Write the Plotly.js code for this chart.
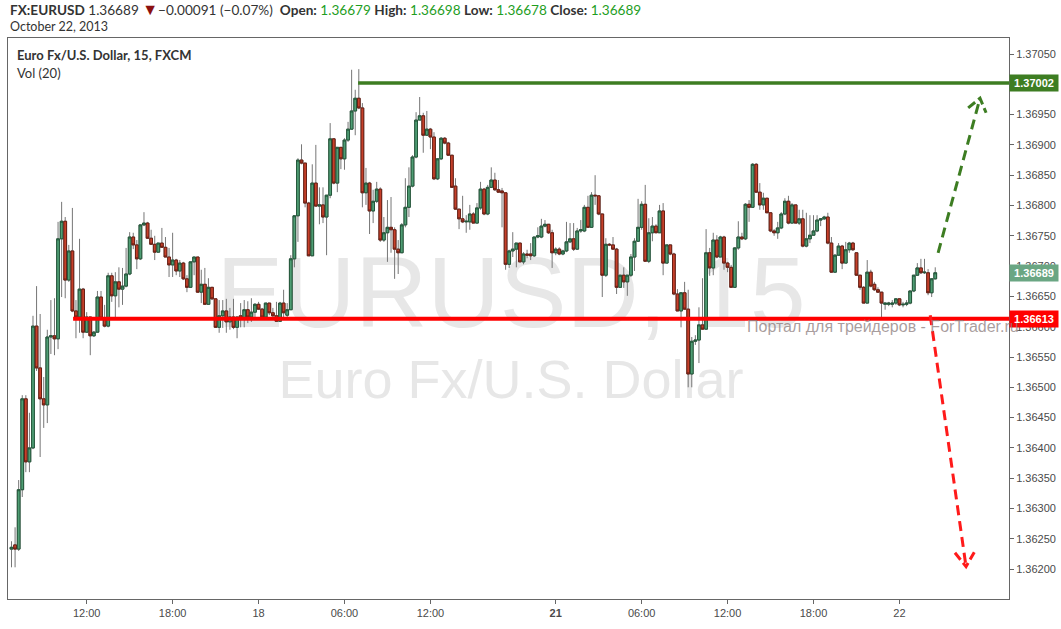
<!DOCTYPE html>
<html><head><meta charset="utf-8">
<script src="https://cdn.plot.ly/plotly-3.0.1.min.js"></script>
<style>html,body{margin:0;padding:0;background:#fff;}#chart{width:1061px;height:629px;}</style>
</head><body><div id="chart"></div>
<script>
// 15-minute EURUSD candles (index 0 = first visible bar)
const openP = [
1.36233,1.36240,1.36233,1.36331,1.36481,1.36377,1.36400,1.36601,1.36532,1.36481,
1.36471,1.36583,1.36585,1.36580,1.36745,1.36774,1.36677,1.36725,1.36626,1.36616,
1.36662,1.36591,1.36616,1.36585,1.36591,1.36649,1.36614,1.36601,1.36684,1.36651,
1.36674,1.36662,1.36667,1.36687,1.36748,1.36735,1.36712,1.36768,1.36771,1.36746,
1.36736,1.36723,1.36738,1.36731,1.36715,1.36702,1.36710,1.36692,1.36705,1.36679,
1.36665,1.36707,1.36715,1.36657,1.36670,1.36637,1.36665,1.36646,1.36599,1.36618,
1.36626,1.36608,1.36616,1.36599,1.36618,1.36614,1.36628,1.36616,1.36624,1.36637,
1.36629,1.36616,1.36639,1.36623,1.36618,1.36609,1.36639,1.36619,1.36628,1.36712,
1.36783,1.36875,1.36870,1.36804,1.36717,1.36837,1.36799,1.36801,1.36781,1.36817,
1.36910,1.36837,1.36896,1.36877,1.36908,1.36926,1.36956,1.36977,1.36961,1.36821,
1.36837,1.36791,1.36807,1.36827,1.36743,1.36755,1.36764,1.36760,1.36728,1.36722,
1.36768,1.36797,1.36832,1.36880,1.36941,1.36948,1.36916,1.36926,1.36913,1.36844,
1.36877,1.36911,1.36903,1.36883,1.36832,1.36794,1.36778,1.36773,1.36773,1.36786,
1.36771,1.36796,1.36827,1.36786,1.36830,1.36842,1.36826,1.36824,1.36821,1.36703,
1.36725,1.36728,1.36738,1.36707,1.36720,1.36720,1.36717,1.36748,1.36748,1.36766,
1.36769,1.36755,1.36722,1.36728,1.36720,1.36725,1.36740,1.36745,1.36728,1.36758,
1.36758,1.36797,1.36764,1.36817,1.36816,1.36786,1.36685,1.36736,1.36735,1.36728,
1.36665,1.36685,1.36674,1.36685,1.36715,1.36741,1.36764,1.36802,1.36708,1.36755,
1.36766,1.36755,1.36791,1.36705,1.36735,1.36720,1.36654,1.36626,1.36656,1.36629,
1.36522,1.36576,1.36578,1.36603,1.36596,1.36722,1.36697,1.36743,1.36715,1.36748,
1.36705,1.36698,1.36665,1.36730,1.36748,1.36745,1.36802,1.36797,1.36868,1.36822,
1.36801,1.36812,1.36788,1.36758,1.36755,1.36763,1.36786,1.36807,1.36771,1.36801,
1.36771,1.36778,1.36733,1.36745,1.36751,1.36758,1.36776,1.36778,1.36781,1.36738,
1.36690,1.36718,1.36733,1.36705,1.36727,1.36738,1.36722,1.36685,1.36665,1.36639,
1.36690,1.36670,1.36661,1.36657,1.36637,1.36637,1.36637,1.36639,1.36646,1.36636,
1.36637,1.36639,1.36659,1.36685,1.36697,1.36689,1.36689,1.36656,1.36679];
const highP = [
1.36246,1.36269,1.36347,1.36487,1.36487,1.36458,1.36618,1.36667,1.36621,1.36517,
1.36595,1.36644,1.36647,1.36773,1.36806,1.36781,1.36735,1.36796,1.36644,1.36745,
1.36664,1.36624,1.36616,1.36593,1.36659,1.36659,1.36636,1.36689,1.36689,1.36690,
1.36698,1.36697,1.36730,1.36756,1.36755,1.36743,1.36769,1.36789,1.36773,1.36760,
1.36750,1.36738,1.36763,1.36748,1.36730,1.36755,1.36712,1.36710,1.36707,1.36685,
1.36707,1.36715,1.36715,1.36694,1.36697,1.36680,1.36665,1.36646,1.36644,1.36644,
1.36646,1.36631,1.36646,1.36616,1.36639,1.36644,1.36642,1.36647,1.36639,1.36641,
1.36631,1.36639,1.36639,1.36631,1.36641,1.36641,1.36661,1.36639,1.36718,1.36784,
1.36878,1.36901,1.36870,1.36806,1.36868,1.36900,1.36830,1.36830,1.36817,1.36936,
1.36911,1.36896,1.36896,1.36911,1.36938,1.37024,1.36991,1.37025,1.36969,1.36862,
1.36839,1.36826,1.36839,1.36830,1.36781,1.36809,1.36814,1.36764,1.36743,1.36771,
1.36845,1.36863,1.36883,1.36954,1.36979,1.36953,1.36956,1.36928,1.36921,1.36878,
1.36913,1.36913,1.36905,1.36883,1.36845,1.36794,1.36816,1.36784,1.36801,1.36789,
1.36804,1.36839,1.36829,1.36834,1.36863,1.36854,1.36842,1.36829,1.36821,1.36727,
1.36756,1.36738,1.36738,1.36723,1.36727,1.36738,1.36748,1.36764,1.36778,1.36776,
1.36769,1.36760,1.36731,1.36731,1.36727,1.36773,1.36771,1.36771,1.36763,1.36776,
1.36801,1.36816,1.36822,1.36850,1.36817,1.36786,1.36746,1.36738,1.36748,1.36730,
1.36685,1.36698,1.36685,1.36720,1.36746,1.36811,1.36807,1.36834,1.36779,1.36781,
1.36769,1.36801,1.36804,1.36735,1.36735,1.36722,1.36662,1.36657,1.36674,1.36661,
1.36583,1.36586,1.36632,1.36680,1.36761,1.36730,1.36755,1.36751,1.36750,1.36750,
1.36707,1.36702,1.36731,1.36774,1.36755,1.36804,1.36809,1.36870,1.36870,1.36837,
1.36821,1.36812,1.36789,1.36761,1.36773,1.36789,1.36812,1.36816,1.36804,1.36801,
1.36793,1.36793,1.36788,1.36784,1.36784,1.36784,1.36779,1.36783,1.36788,1.36748,
1.36720,1.36738,1.36735,1.36740,1.36740,1.36740,1.36722,1.36685,1.36667,1.36710,
1.36694,1.36674,1.36665,1.36657,1.36639,1.36641,1.36644,1.36647,1.36647,1.36641,
1.36644,1.36659,1.36685,1.36705,1.36712,1.36712,1.36695,1.36680,1.36698];
const lowP = [
1.36203,1.36203,1.36230,1.36319,1.36360,1.36360,1.36398,1.36527,1.36385,1.36433,
1.36441,1.36555,1.36553,1.36563,1.36649,1.36647,1.36674,1.36624,1.36581,1.36590,
1.36581,1.36590,1.36553,1.36583,1.36591,1.36611,1.36599,1.36599,1.36641,1.36616,
1.36632,1.36636,1.36665,1.36685,1.36728,1.36695,1.36710,1.36766,1.36745,1.36735,
1.36710,1.36723,1.36731,1.36715,1.36682,1.36682,1.36685,1.36682,1.36677,1.36657,
1.36665,1.36685,1.36656,1.36639,1.36636,1.36636,1.36644,1.36598,1.36590,1.36598,
1.36590,1.36595,1.36596,1.36581,1.36599,1.36599,1.36606,1.36608,1.36616,1.36628,
1.36614,1.36614,1.36619,1.36616,1.36608,1.36608,1.36614,1.36614,1.36628,1.36698,
1.36740,1.36868,1.36797,1.36717,1.36717,1.36799,1.36769,1.36771,1.36718,1.36812,
1.36835,1.36822,1.36860,1.36859,1.36905,1.36925,1.36916,1.36959,1.36797,1.36801,
1.36753,1.36771,1.36804,1.36740,1.36740,1.36707,1.36722,1.36679,1.36687,1.36722,
1.36764,1.36781,1.36830,1.36878,1.36941,1.36887,1.36915,1.36893,1.36842,1.36842,
1.36875,1.36901,1.36882,1.36830,1.36793,1.36761,1.36771,1.36755,1.36760,1.36771,
1.36771,1.36793,1.36784,1.36784,1.36829,1.36824,1.36821,1.36764,1.36694,1.36697,
1.36715,1.36698,1.36707,1.36703,1.36713,1.36710,1.36715,1.36746,1.36746,1.36764,
1.36753,1.36697,1.36718,1.36718,1.36718,1.36723,1.36738,1.36725,1.36727,1.36755,
1.36756,1.36764,1.36763,1.36801,1.36784,1.36649,1.36682,1.36733,1.36727,1.36654,
1.36664,1.36664,1.36651,1.36682,1.36692,1.36740,1.36760,1.36707,1.36705,1.36741,
1.36755,1.36755,1.36685,1.36705,1.36718,1.36652,1.36626,1.36599,1.36628,1.36500,
1.36500,1.36570,1.36540,1.36595,1.36595,1.36684,1.36685,1.36713,1.36715,1.36694,
1.36690,1.36664,1.36664,1.36727,1.36743,1.36743,1.36773,1.36797,1.36821,1.36793,
1.36793,1.36788,1.36756,1.36750,1.36745,1.36761,1.36784,1.36769,1.36771,1.36771,
1.36768,1.36731,1.36731,1.36738,1.36750,1.36756,1.36766,1.36776,1.36736,1.36689,
1.36689,1.36717,1.36695,1.36705,1.36722,1.36725,1.36684,1.36661,1.36639,1.36639,
1.36665,1.36659,1.36656,1.36614,1.36628,1.36634,1.36632,1.36636,1.36634,1.36632,
1.36634,1.36637,1.36657,1.36684,1.36687,1.36687,1.36652,1.36649,1.36678];
const closeP = [
1.36236,1.36233,1.36331,1.36481,1.36377,1.36400,1.36601,1.36532,1.36481,1.36471,
1.36583,1.36585,1.36580,1.36745,1.36774,1.36677,1.36725,1.36626,1.36616,1.36662,
1.36591,1.36616,1.36585,1.36591,1.36649,1.36614,1.36601,1.36684,1.36651,1.36674,
1.36662,1.36667,1.36687,1.36748,1.36735,1.36712,1.36768,1.36771,1.36746,1.36736,
1.36723,1.36738,1.36731,1.36715,1.36702,1.36710,1.36692,1.36705,1.36679,1.36665,
1.36707,1.36715,1.36657,1.36670,1.36637,1.36665,1.36646,1.36599,1.36618,1.36626,
1.36608,1.36616,1.36599,1.36616,1.36614,1.36628,1.36616,1.36624,1.36637,1.36629,
1.36616,1.36639,1.36623,1.36618,1.36609,1.36639,1.36623,1.36628,1.36712,1.36783,
1.36875,1.36870,1.36804,1.36717,1.36837,1.36799,1.36801,1.36781,1.36817,1.36910,
1.36837,1.36896,1.36877,1.36908,1.36926,1.36956,1.36977,1.36961,1.36821,1.36837,
1.36791,1.36807,1.36827,1.36743,1.36755,1.36764,1.36760,1.36728,1.36722,1.36768,
1.36797,1.36832,1.36880,1.36941,1.36948,1.36916,1.36926,1.36913,1.36844,1.36877,
1.36911,1.36903,1.36883,1.36830,1.36794,1.36778,1.36773,1.36774,1.36786,1.36771,
1.36796,1.36827,1.36786,1.36830,1.36842,1.36826,1.36822,1.36821,1.36703,1.36725,
1.36728,1.36738,1.36707,1.36720,1.36718,1.36717,1.36748,1.36750,1.36766,1.36769,
1.36755,1.36722,1.36728,1.36720,1.36725,1.36740,1.36745,1.36728,1.36758,1.36760,
1.36797,1.36764,1.36817,1.36816,1.36786,1.36685,1.36736,1.36735,1.36728,1.36665,
1.36685,1.36674,1.36685,1.36715,1.36741,1.36764,1.36802,1.36708,1.36755,1.36766,
1.36755,1.36791,1.36705,1.36735,1.36720,1.36654,1.36626,1.36656,1.36629,1.36522,
1.36576,1.36578,1.36603,1.36596,1.36722,1.36697,1.36743,1.36715,1.36748,1.36705,
1.36698,1.36665,1.36730,1.36748,1.36745,1.36802,1.36797,1.36868,1.36822,1.36801,
1.36812,1.36788,1.36758,1.36755,1.36763,1.36786,1.36807,1.36771,1.36801,1.36771,
1.36778,1.36733,1.36745,1.36751,1.36758,1.36776,1.36778,1.36781,1.36738,1.36690,
1.36718,1.36733,1.36705,1.36727,1.36738,1.36727,1.36685,1.36665,1.36639,1.36690,
1.36667,1.36661,1.36657,1.36639,1.36639,1.36639,1.36639,1.36646,1.36636,1.36637,
1.36639,1.36659,1.36685,1.36697,1.36689,1.36690,1.36656,1.36679,1.36689];

// x-axis ticks (bar index) and their labels
const tickIdx = [21, 45, 69, 93, 117, 152, 176, 200, 224, 248];
const tickLabels = ['12:00', '18:00', '18', '06:00', '12:00', '<b>21</b>', '06:00', '12:00', '18:00', '22'];

// drawn levels and arrows
const resistanceLevel = 1.37002, resistanceFromIdx = 96.8;
const supportLevel = 1.36613, supportFromIdx = 17.2;
const upArrowIdx = [258.8, 270.5], upArrowPrice = [1.36722, 1.36977];
const upHeadIdx = [267.2, 270.5, 272.2], upHeadPrice = [1.36961, 1.36977, 1.36953];
const downArrowIdx = [256.6, 266.6], downArrowPrice = [1.36619, 1.36204];
const downHeadIdx = [263.5, 266.6, 268.9], downHeadPrice = [1.36227, 1.36204, 1.36228];

// header texts
const symbol = 'FX:EURUSD';
const changeText = '\u22120.00091 (\u22120.07%)';
const dateText = 'October 22, 2013';
const chartTitle = 'Euro Fx/U.S. Dollar, 15, FXCM';
const volText = 'Vol (20)';
const watermark1 = 'EURUSD, 15';
const watermark2 = 'Euro Fx/U.S. Dollar';
const siteText = '\u041f\u043e\u0440\u0442\u0430\u043b \u0434\u043b\u044f \u0442\u0440\u0435\u0439\u0434\u0435\u0440\u043e\u0432 - ForTrader.ru';

const xIdx = openP.map((_, i) => i);
const bodyHigh = openP.map((o, i) => Math.max(o, closeP[i]));
const bodyLow = openP.map((o, i) => Math.min(o, closeP[i]));
const last = closeP.length - 1;
const f5 = v => v.toFixed(5);

const wickTrace = {
  type: 'candlestick', x: xIdx, open: openP, high: highP, low: lowP, close: closeP,
  increasing: {line: {color: '#767676', width: 1}, fillcolor: '#767676'},
  decreasing: {line: {color: '#767676', width: 1}, fillcolor: '#767676'},
  whiskerwidth: 0, hoverinfo: 'skip', showlegend: false
};
const bodyTrace = {
  type: 'candlestick', x: xIdx, open: openP, high: bodyHigh, low: bodyLow, close: closeP,
  increasing: {line: {color: '#23573a', width: 1}, fillcolor: '#4f9d74'},
  decreasing: {line: {color: '#6a1f14', width: 1}, fillcolor: '#c6402a'},
  whiskerwidth: 0, hoverinfo: 'skip', showlegend: false
};

const path = (xs, ys) => xs.map((x, i) => (i ? 'L' : 'M') + x + ',' + ys[i]).join(' ');

const shapes = [
  {type: 'rect', xref: 'x', yref: 'y', layer: 'below', x0: 39.5, x1: 239.5, y0: 1.36662, y1: 1.36682,
   line: {width: 0}, fillcolor: 'rgba(0,0,0,0)',
   label: {text: watermark1, textposition: 'middle center', font: {family: 'Liberation Sans, Arial, sans-serif', size: 100, color: '#e7e7e7'}}},
  {type: 'rect', xref: 'x', yref: 'y', layer: 'below', x0: 39.5, x1: 239.5, y0: 1.36512, y1: 1.36532,
   line: {width: 0}, fillcolor: 'rgba(0,0,0,0)',
   label: {text: watermark2, textposition: 'middle center', font: {family: 'Liberation Sans, Arial, sans-serif', size: 54, color: '#e7e7e7'}}},
  {type: 'line', xref: 'x', yref: 'y', x0: resistanceFromIdx, x1: 400, y0: resistanceLevel, y1: resistanceLevel,
   line: {color: '#3d7d22', width: 3.5}},
  {type: 'line', xref: 'x', yref: 'y', x0: supportFromIdx, x1: 400, y0: supportLevel, y1: supportLevel,
   line: {color: '#ff0000', width: 4}},
  {type: 'path', xref: 'x', yref: 'y', path: path(upArrowIdx, upArrowPrice), line: {color: '#3d7d22', width: 3, dash: '10px,6px'}},
  {type: 'path', xref: 'x', yref: 'y', path: path(upHeadIdx, upHeadPrice), line: {color: '#3d7d22', width: 3, dash: '9px,4px'}},
  {type: 'path', xref: 'x', yref: 'y', path: path(downArrowIdx, downArrowPrice), line: {color: '#ff1a1a', width: 3, dash: '10px,6px'}},
  {type: 'path', xref: 'x', yref: 'y', path: path(downHeadIdx, downHeadPrice), line: {color: '#ff1a1a', width: 3, dash: '9px,4px'}}
];

const green = '#1f9e1f';
const header1 = '<b>' + symbol + '</b> ' + f5(closeP[last]) + ' <span style="color:#8b1010;font-size:16px">\u25bc</span>' + changeText +
  '&nbsp;&nbsp;<b>Open:</b> <span style="color:' + green + '">' + f5(openP[last]) + '</span>' +
  ' <b>High:</b> <span style="color:' + green + '">' + f5(highP[last]) + '</span>' +
  ' <b>Low:</b> <span style="color:' + green + '">' + f5(lowP[last]) + '</span>' +
  ' <b>Close:</b> <span style="color:' + green + '">' + f5(closeP[last]) + '</span>';

const hdrFont = {family: 'Lato, Open Sans, sans-serif', size: 13.6, color: '#333'};
const dateFont = {family: 'Lato, Open Sans, sans-serif', size: 12.5, color: '#333'};
const titleFont = {family: 'Lato, Open Sans, sans-serif', size: 13, color: '#333'};
const priceLabel = (y, bg, txt) => ({
  xref: 'paper', x: 1, xanchor: 'left', yref: 'y', y: y, yanchor: 'middle', showarrow: false,
  text: '<b>' + txt + '</b>', bgcolor: bg, width: 46, height: 14, borderpad: 1, align: 'center',
  font: {family: 'Liberation Sans, Arial, sans-serif', size: 11, color: '#ffffff'}
});

const annotations = [
  {xref: 'paper', yref: 'paper', x: 0, y: 1.0525, xanchor: 'left', yanchor: 'middle', showarrow: false, text: header1, font: hdrFont},
  {xref: 'paper', yref: 'paper', x: 0, y: 1.0212, xanchor: 'left', yanchor: 'middle', showarrow: false, text: dateText, font: dateFont},
  {xref: 'paper', yref: 'paper', x: 0.007, y: 0.9697, xanchor: 'left', yanchor: 'middle', showarrow: false, text: '<b>' + chartTitle + '</b>', font: titleFont},
  {xref: 'paper', yref: 'paper', x: 0.007, y: 0.9376, xanchor: 'left', yanchor: 'middle', showarrow: false, text: volText, font: titleFont},
  priceLabel(resistanceLevel, '#3d7d22', f5(resistanceLevel)),
  priceLabel(closeP[last], '#6aa683', f5(closeP[last])),
  priceLabel(supportLevel, '#ff0000', f5(supportLevel)),
  {xref: 'x', yref: 'y', x: 204.9, y: 1.36600, xanchor: 'left', yanchor: 'middle', showarrow: false, text: siteText,
   font: {family: 'Liberation Sans, Arial, sans-serif', size: 16, color: 'rgba(140,125,125,0.75)'}}
];

const axisFont = {family: 'Liberation Sans, Arial, sans-serif', size: 11, color: '#4a4a4a'};
const layout = {
  width: 1061, height: 629,
  margin: {l: 8, r: 52, t: 38, b: 30},
  paper_bgcolor: '#ffffff', plot_bgcolor: 'rgba(0,0,0,0)',
  showlegend: false, boxgap: 0.15, boxgroupgap: 0.1,
  font: axisFont,
  xaxis: {
    range: [-0.98, 278.6], rangeslider: {visible: false}, showgrid: false, zeroline: false,
    showline: true, mirror: true, linecolor: '#666', linewidth: 1,
    ticks: 'outside', ticklen: 4, tickcolor: '#666',
    tickmode: 'array', tickvals: tickIdx, ticktext: tickLabels, tickfont: axisFont, fixedrange: true
  },
  yaxis: {
    side: 'right', range: [1.361507, 1.370764], showgrid: false, zeroline: false,
    showline: true, mirror: true, linecolor: '#666', linewidth: 1,
    ticks: 'outside', ticklen: 4, tickcolor: '#666',
    tick0: 1.362, dtick: 0.0005, tickformat: '.5f', tickfont: axisFont, fixedrange: true
  },
  shapes: shapes,
  annotations: annotations
};

Plotly.newPlot('chart', [wickTrace, bodyTrace], layout, {staticPlot: true, displayModeBar: false});
</script>
</body></html>
